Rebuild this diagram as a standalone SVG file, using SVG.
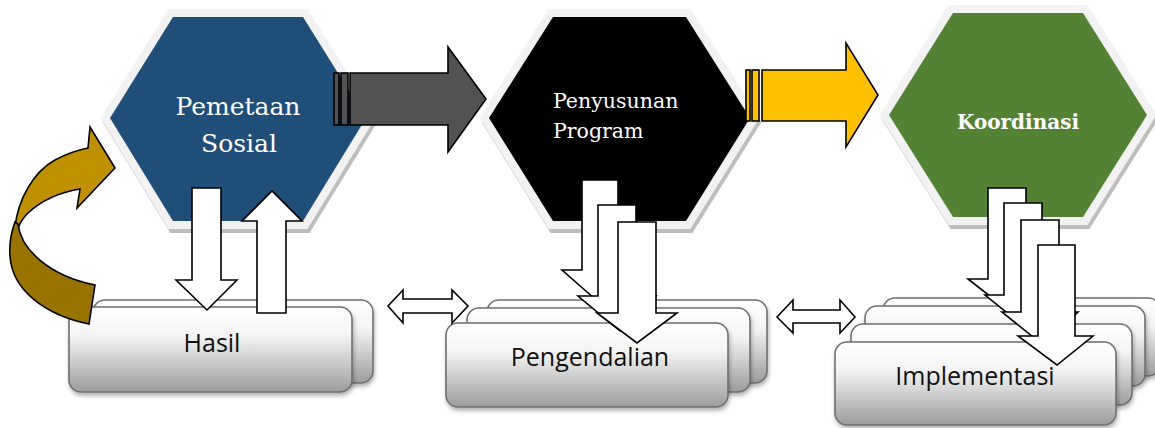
<svg xmlns="http://www.w3.org/2000/svg" width="1155" height="428" viewBox="0 0 1155 428">
<defs>
<linearGradient id="boxg" x1="0" y1="0" x2="0" y2="1">
<stop offset="0" stop-color="#ffffff"/>
<stop offset="0.35" stop-color="#f3f3f3"/>
<stop offset="1" stop-color="#9c9c9c"/>
</linearGradient>
<filter id="sh" x="-10%" y="-10%" width="130%" height="140%">
<feDropShadow dx="1" dy="3" stdDeviation="2" flood-color="#000" flood-opacity="0.3"/>
</filter>
</defs>
<style>
.hs{fill:#bdbdbd;stroke:#bdbdbd;stroke-width:16;stroke-linejoin:miter}
.hb{fill:#f2f2f2;stroke:#f2f2f2;stroke-width:16;stroke-linejoin:miter}
.box{fill:url(#boxg);stroke:#6f6f6f;stroke-width:1.6;filter:url(#sh)}
.lbl{font-family:"Open Sans","Noto Sans",sans-serif;font-size:25px;fill:#111;text-anchor:middle}
.ht{font-family:"DejaVu Serif","Liberation Serif",serif;fill:#fff}
.wa{fill:#fff;stroke:#000;stroke-width:1.6;stroke-linejoin:miter}
.ol{stroke:#000;stroke-width:1.6;stroke-linejoin:miter}
</style>

<g id="node-pemetaan">
<polygon class="hs" points="175,21 305,21 368,122 305,225 175,225 112,122"/>
<polygon class="hb" points="173,17 303,17 366,118 303,221 173,221 110,118"/>
<polygon fill="#1f4e79" points="173,17 303,17 366,118 303,221 173,221 110,118"/>
<text class="ht" x="238" y="115" font-size="25" text-anchor="middle">Pemetaan</text>
<text class="ht" x="239" y="152" font-size="25" text-anchor="middle">Sosial</text>
</g>

<g id="node-penyusunan">
<polygon class="hs" points="555,21 688,21 752,122 688,225 555,225 491,122"/>
<polygon class="hb" points="553,17 686,17 750,118 686,221 553,221 489,118"/>
<polygon fill="#000" points="553,17 686,17 750,118 686,221 553,221 489,118"/>
<text class="ht" x="553" y="108" font-size="20.5">Penyusunan</text>
<text class="ht" x="553" y="138" font-size="20.5">Program</text>
</g>

<g id="node-koordinasi">
<polygon class="hs" points="955,17 1085,17 1149,119 1085,221 955,221 891,119"/>
<polygon class="hb" points="953,13 1083,13 1147,115 1083,217 953,217 889,115"/>
<polygon fill="#548235" points="953,13 1083,13 1147,115 1083,217 953,217 889,115"/>
<text class="ht" x="1018" y="129" font-size="20" font-weight="bold" text-anchor="middle">Koordinasi</text>
</g>

<g id="node-hasil">
<rect class="box" x="93" y="300" width="280" height="83" rx="12"/>
<rect class="box" x="69" y="307" width="283" height="85" rx="12"/>
<text class="lbl" x="212" y="352">Hasil</text>
</g>

<g id="node-pengendalian">
<rect class="box" x="487" y="300" width="280" height="83" rx="12"/>
<rect class="box" x="467" y="308" width="283" height="84" rx="12"/>
<rect class="box" x="446" y="323" width="282" height="84" rx="12"/>
<text class="lbl" x="590" y="366">Pengendalian</text>
</g>

<g id="node-implementasi">
<rect class="box" x="883" y="298" width="277" height="78" rx="12"/>
<rect class="box" x="865" y="306" width="280" height="80" rx="12"/>
<rect class="box" x="851" y="324" width="281" height="81" rx="12"/>
<rect class="box" x="835" y="342" width="281" height="83" rx="12"/>
<text class="lbl" x="975" y="385">Implementasi</text>
</g>

<g id="connectors">
<!-- curved feedback arrow -->
<path class="ol" fill="#bf9000" d="M15,227 C18,200 33,172 55,160 C66,154 78,150 88,148 L90,127 L115,168 L77,208 L80,189 C62,192 42,200 28,213 C23,218 20,223 18,228 Z"/>
<path class="ol" fill="#997300" d="M18,224 C21,250 50,276 95,285 L89,324 C45,315 12,290 10,256 C9,244 11,233 15,222 Z"/>

<!-- gray arrow -->
<rect class="ol" fill="#525252" x="334" y="73" width="5" height="52"/>
<rect class="ol" fill="#525252" x="341" y="73" width="7" height="52"/>
<polygon class="ol" fill="#525252" points="350,73 448,73 448,47 486,99 448,152 448,125 350,125"/>

<!-- yellow arrow -->
<rect class="ol" fill="#ffc000" x="746" y="70" width="4" height="51"/>
<rect class="ol" fill="#ffc000" x="752" y="70" width="7" height="51"/>
<polygon class="ol" fill="#ffc000" points="762,70 846,70 846,43 878,95 846,147 846,121 762,121"/>

<!-- pemetaan <-> hasil -->
<polygon class="wa" points="192,188 221,188 221,280 237,280 207,310 176,280 192,280"/>
<polygon class="wa" points="257,313 286,313 286,221 302,221 272,191 242,221 257,221"/>

<!-- penyusunan -> pengendalian -->
<polygon class="wa" points="582,180 618,180 618,270 638,270 603,306 562,270 582,270"/>
<polygon class="wa" points="598,205 636,205 636,296 656,296 620,331 578,296 598,296"/>
<polygon class="wa" points="618,222 656,222 656,313 677,313 637,343 597,313 618,313"/>

<!-- koordinasi -> implementasi -->
<polygon class="wa" points="988,188 1026,188 1026,279 1046,279 1010,312 968,279 988,279"/>
<polygon class="wa" points="1004,203 1042,203 1042,295 1062,295 1026,328 985,295 1004,295"/>
<polygon class="wa" points="1021,220 1059,220 1059,312 1078,312 1043,345 1002,312 1021,312"/>
<polygon class="wa" points="1038,245 1075,245 1075,336 1093,336 1057,365 1018,336 1038,336"/>

<!-- double arrows -->
<polygon class="wa" points="388,306 403,290 403,299 452,299 452,290 468,306 452,323 452,313 403,313 403,323"/>
<polygon class="wa" points="777,317 793,300 793,310 840,310 840,300 855,317 840,333 840,323 793,323 793,333"/>
</g>
</svg>
